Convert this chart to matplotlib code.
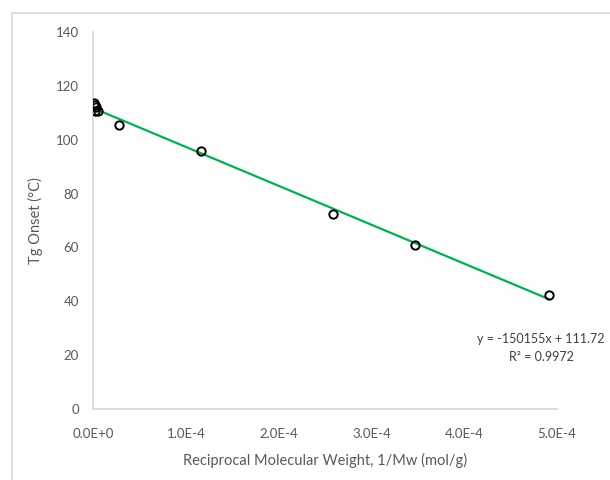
import matplotlib
matplotlib.use("Agg")
import matplotlib.pyplot as plt
from matplotlib.patches import Rectangle
import numpy as np

plt.rcParams['font.family'] = ['Lato', 'DejaVu Sans']

# Data
inv_mw = [0.1e-5, 0.2e-5, 0.3e-5, 0.2e-5, 0.5e-5, 2.77e-5, 1.16e-4, 2.59e-4, 3.47e-4, 4.91e-4]
tg_onset = [113.5, 112.8, 112.0, 110.5, 110.8, 105.5, 95.9, 72.4, 60.9, 42.3]
x_ticks = [0, 1e-4, 2e-4, 3e-4, 4e-4, 5e-4]
x_tick_labels = ["0.0E+0", "1.0E-4", "2.0E-4", "3.0E-4", "4.0E-4", "5.0E-4"]
y_ticks = [0, 20, 40, 60, 80, 100, 120, 140]
eq_text = "y = -150155x + 111.72"
r2_text = "R² = 0.9972"

fig = plt.figure(figsize=(6.1, 4.8), dpi=100)
fig.patches.append(Rectangle((12/610, -0.1), 1.2, 1 - 13/480 + 0.1, transform=fig.transFigure,
                             fill=False, edgecolor='#d9d9d9', linewidth=1.2, zorder=0))
ax = fig.add_axes([93/610, 1 - 409/480, (557 - 93)/610, (409 - 32)/480])

x = np.array(inv_mw)
y = np.array(tg_onset)
coef = np.polyfit(x, y, 1)
xl = np.array([x.min(), x.max()])
ax.plot(xl, np.polyval(coef, xl), color='#00b050', linewidth=1.6, zorder=2)
ax.plot(x, y, linestyle='none', marker='o', markersize=6, markerfacecolor='none',
        markeredgecolor='black', markeredgewidth=1.4, zorder=3)

ax.set_xlim(0, 5e-4)
ax.set_ylim(0, 140)
ax.set_xticks(x_ticks)
ax.set_xticklabels(x_tick_labels)
ax.set_yticks(y_ticks)
ax.tick_params(length=0, labelsize=9.5, labelcolor='#595959')
ax.tick_params(axis='x', pad=14)
ax.tick_params(axis='y', pad=10)
for s in ['top', 'right']:
    ax.spines[s].set_visible(False)
for s in ['left', 'bottom']:
    ax.spines[s].set_color('#d9d9d9')
    ax.spines[s].set_linewidth(1.3)

ax.set_xlabel("Reciprocal Molecular Weight, 1/Mw (mol/g)", fontsize=10.5, color='#595959', labelpad=9)
ax.set_ylabel("Tg Onset (°C)", fontsize=10.5, color='#595959', labelpad=9)

fig.text(541/610, 1 - 339/480, eq_text, ha='center', va='center', fontsize=9, color='#404040')
fig.text(541/610, 1 - 357/480, r2_text, ha='center', va='center', fontsize=9, color='#404040')

fig.savefig("out.png", dpi=100)
